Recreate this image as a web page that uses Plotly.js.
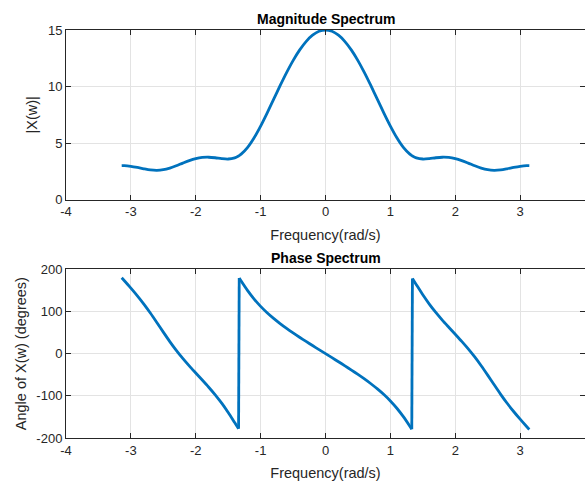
<!DOCTYPE html>
<html>
<head>
<meta charset="utf-8">
<script src="https://cdn.plot.ly/plotly-3.0.1.min.js"></script>
<style>html,body{margin:0;padding:0;background:#fff;}</style>
</head>
<body>
<div id="chart" style="width:585px;height:485px;"></div>
<script>
// Frequency samples (rad/s)
var freq = [-3.1416,-3.1,-3.0,-2.9,-2.8,-2.7,-2.6,-2.5,-2.4,-2.3,-2.2,-2.1,-2.0,-1.9,-1.8,-1.7,-1.6,-1.5,-1.4,-1.34,-1.33,-1.3,-1.2,-1.1,-1.0,-0.9,-0.8,-0.7,-0.6,-0.5,-0.4,-0.3,-0.2,-0.1,
  0,0.1,0.2,0.3,0.4,0.5,0.6,0.7,0.8,0.9,1.0,1.1,1.2,1.3,1.33,1.34,1.4,1.5,1.6,1.7,1.8,1.9,2.0,2.1,2.2,2.3,2.4,2.5,2.6,2.7,2.8,2.9,3.0,3.1,3.1416];
// |X(w)|
var magnitude = [3.000,3.000,2.942,2.845,2.728,2.630,2.591,2.641,2.783,2.993,3.230,3.453,3.626,3.727,3.748,3.701,3.624,3.589,3.692,3.860,3.897,4.025,4.627,5.474,6.506,7.657,8.865,10.073,11.231,12.293,13.220,13.978,14.539,14.884,
  15,14.884,14.539,13.978,13.220,12.293,11.231,10.073,8.865,7.657,6.506,5.474,4.627,4.025,3.897,3.860,3.692,3.589,3.624,3.701,3.748,3.727,3.626,3.453,3.230,2.993,2.783,2.641,2.591,2.630,2.728,2.845,2.942,3.000,3.000];
// angle of X(w) in degrees
var phaseDeg = [180,172.85,155.39,137.14,117.58,96.44,73.95,50.96,28.66,7.85,-11.28,-29.04,-45.94,-62.58,-79.58,-97.65,-117.48,-139.55,-163.53,-178.22,179.35,172.14,149.43,129.44,112.15,97.07,83.63,71.39,60.00,49.25,38.94,28.95,19.19,9.56,
  0,-9.56,-19.19,-28.95,-38.94,-49.25,-60.00,-71.39,-83.63,-97.07,-112.15,-129.44,-149.43,-172.14,-179.35,178.22,163.53,139.55,117.48,97.65,79.58,62.58,45.94,29.04,11.28,-7.85,-28.66,-50.96,-73.95,-96.44,-117.58,-137.14,-155.39,-172.85,-180];

var xTicks = [-4,-3,-2,-1,0,1,2,3,4];
var magTicks = [0,5,10,15];
var phaseTicks = [-200,-100,0,100,200];

var lineColor = '#0072BD';
var axCol = '#262626';
var gridCol = '#e3e3e3';
var lw = 2.8;

function xax(anchor){
  return {anchor:anchor, domain:[0,1], range:[-4,4], tickvals:xTicks, ticktext:xTicks.map(String),
    showgrid:true, gridcolor:gridCol, gridwidth:1, zeroline:false,
    showline:true, linecolor:axCol, linewidth:1, mirror:'ticks', ticks:'inside', ticklen:5, tickcolor:axCol,
    tickfont:{size:13, color:axCol},
    title:{text:'Frequency(rad/s)', font:{size:14.5, color:axCol}, standoff:11}};
}
function yax(anchor, dom, rng, tv, ttl){
  return {anchor:anchor, domain:dom, range:rng, tickvals:tv, ticktext:tv.map(String),
    showgrid:true, gridcolor:gridCol, gridwidth:1, zeroline:false,
    showline:true, linecolor:axCol, linewidth:1, mirror:'ticks', ticks:'inside', ticklen:5, tickcolor:axCol,
    tickfont:{size:13, color:axCol},
    title:{text:ttl, font:{size:14.5, color:axCol}, standoff:6}};
}

// find wrap points (jumps of the wrapped phase) and split into smooth segments
var traces = [
  {x:freq, y:magnitude, type:'scatter', mode:'lines', line:{color:lineColor, width:lw, shape:'spline', smoothing:0.8}, xaxis:'x', yaxis:'y'}
];
var start = 0;
for (var i = 1; i <= phaseDeg.length; i++) {
  var isJump = (i < phaseDeg.length) && Math.abs(phaseDeg[i] - phaseDeg[i-1]) > 300;
  if (i === phaseDeg.length || isJump) {
    traces.push({x:freq.slice(start, i), y:phaseDeg.slice(start, i), type:'scatter', mode:'lines',
      line:{color:lineColor, width:lw, shape:'spline', smoothing:0.8}, xaxis:'x2', yaxis:'y2'});
    if (isJump) {
      traces.push({x:freq.slice(i-1, i+1), y:phaseDeg.slice(i-1, i+1), type:'scatter', mode:'lines',
        line:{color:lineColor, width:lw}, xaxis:'x2', yaxis:'y2'});
    }
    start = i;
  }
}

var layout = {
  width:585, height:485,
  margin:{l:66, r:0, t:30, b:47},
  paper_bgcolor:'#ffffff', plot_bgcolor:'#ffffff',
  showlegend:false,
  font:{family:'Liberation Sans, Arial, Helvetica, sans-serif', size:13, color:axCol},
  xaxis: xax('y'),
  yaxis: yax('x', [0.5843,1], [0,15], magTicks, '|X(w)|'),
  xaxis2: xax('y2'),
  yaxis2: yax('x2', [0,0.4135], [-200,200], phaseTicks, 'Angle of X(w) (degrees)'),
  annotations:[
    {text:'<b>Magnitude Spectrum</b>', xref:'paper', yref:'paper', x:0.5, y:1, yshift:1, xanchor:'center', yanchor:'bottom', showarrow:false, font:{size:14, color:'#000'}},
    {text:'<b>Phase Spectrum</b>', xref:'paper', yref:'paper', x:0.5, y:0.4135, yshift:1, xanchor:'center', yanchor:'bottom', showarrow:false, font:{size:14, color:'#000'}}
  ]
};

Plotly.newPlot('chart', traces, layout, {displayModeBar:false, staticPlot:true});
</script>
</body>
</html>
